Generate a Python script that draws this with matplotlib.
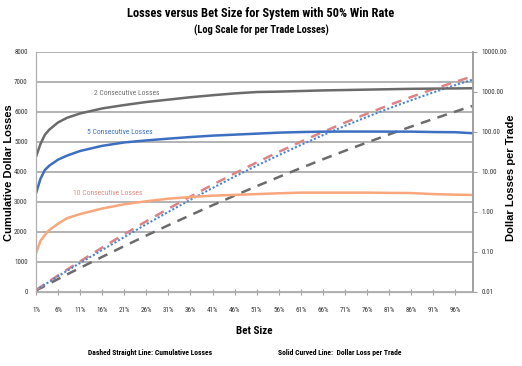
import matplotlib
matplotlib.use('Agg')
import matplotlib.pyplot as plt
from matplotlib import font_manager
from matplotlib.ticker import FixedLocator, FuncFormatter

# pick a narrow font if one is there
installed = {f.name for f in font_manager.fontManager.ttflist}
narrow = 'Liberation Sans'
for name in ['Liberation Sans Narrow', 'DejaVu Sans Condensed', 'Roboto Condensed',
             'Open Sans Condensed', 'Noto Sans Condensed']:
    if name in installed:
        narrow = name
        break
plt.rcParams['font.family'] = [narrow, 'DejaVu Sans']
arial = ['Liberation Sans', 'DejaVu Sans']

# bet size in percent
bet_size = [1, 2, 3, 4, 6, 8, 11, 16, 21, 26, 31, 36, 41, 46, 51, 56, 61, 66, 71, 76, 81, 86, 91, 96, 100]

# cumulative losses (left axis, dashed lines)
cum_red = [57, 155, 252, 349, 542, 732, 1013, 1472, 1917, 2348, 2767, 3172, 3563, 3942, 4307,
           4658, 4997, 5322, 5633, 5932, 6217, 6488, 6747, 6992, 7178]
cum_blue = [50, 150, 240, 330, 515, 695, 960, 1390, 1820, 2250, 2660, 3065, 3455, 3835, 4200,
            4550, 4890, 5215, 5525, 5825, 6110, 6380, 6640, 6885, 7070]
cum_gray = [40, 117, 193, 270, 421, 572, 795, 1161, 1520, 1871, 2215, 2551, 2880, 3201, 3515,
            3821, 4120, 4411, 4695, 4971, 5240, 5501, 5755, 6001, 6193]

# dollar loss per trade (right log axis, solid curves)
loss_2 = [23.7, 49.0, 83.2, 112, 170, 221, 285, 380, 462, 550, 631, 724, 813, 902, 977,
          1000, 1035, 1072, 1096, 1122, 1148, 1175, 1189, 1202, 1216]
loss_5 = [2.88, 6.6, 11.0, 14.1, 20.0, 25.1, 32.9, 44.2, 53.7, 60.3, 66.8, 73.3, 79.4, 84.1, 89.1,
          94.4, 97.7, 100, 100.5, 100.5, 100, 100, 97.7, 96.6, 91.2]
loss_10 = [0.091, 0.186, 0.262, 0.347, 0.501, 0.684, 0.871, 1.20, 1.53, 1.82, 2.11, 2.32, 2.51, 2.63, 2.75,
           2.88, 2.99, 2.99, 2.99, 2.99, 2.95, 2.92, 2.75, 2.66, 2.62]

x_ticks = list(range(1, 100, 5))
x_labels = [f'{t}%' for t in x_ticks]

fig = plt.figure(figsize=(5.22, 3.66), dpi=100)
ax = fig.add_axes([0.069, 0.203, 0.837, 0.656])
ax2 = ax.twinx()

grid_c = '#a6a6a6'
ax.set_ylim(0, 8000)
ax.set_xlim(1, 100)
ax.yaxis.set_major_locator(FixedLocator(range(0, 8001, 1000)))
ax.grid(axis='y', color=grid_c, linewidth=1.2)
ax.set_axisbelow(True)
ax.set_xticks(x_ticks)
ax.set_xticklabels(x_labels)

ax.spines['top'].set_visible(False)
ax2.spines['top'].set_visible(False)
for a in (ax, ax2):
    a.spines['left'].set_color('#b0b0b0')
    a.spines['bottom'].set_color('#b0b0b0')
    a.spines['right'].set_color('#a0a0a0')
    a.spines['right'].set_linewidth(1.2)

ax.tick_params(axis='y', length=0, labelsize=5, pad=6, colors='#333333')
ax.tick_params(axis='x', length=4, direction='inout', color='#a0a0a0', labelsize=5,
               labelcolor='#333333', pad=9)

ax.plot(bet_size, cum_gray, color='#6b6b6b', linewidth=1.8, linestyle=(0, (4, 3)))
ax.plot(bet_size, cum_red, color='#d98585', linewidth=1.8, linestyle=(0, (4, 3)))
ax.plot(bet_size, cum_blue, color='#4a86d0', linewidth=1.5, linestyle=(0, (1, 1)))

ax2.set_yscale('log')
ax2.set_ylim(0.01, 10000)
ax2.yaxis.set_major_locator(FixedLocator([0.01, 0.1, 1, 10, 100, 1000, 10000]))
ax2.yaxis.set_minor_locator(FixedLocator([]))
ax2.yaxis.set_major_formatter(FuncFormatter(lambda v, p: f'{v:.2f}'))
ax2.tick_params(axis='y', length=3, color='#a0a0a0', labelsize=5, labelcolor='#333333', pad=3)

ax2.plot(bet_size, loss_2, color='#6b6b6b', linewidth=1.8)
ax2.plot(bet_size, loss_5, color='#3d6fc0', linewidth=1.8)
ax2.plot(bet_size, loss_10, color='#f8a67c', linewidth=1.8)

ax.text(21.6, 6633, '2 Consecutive Losses', color='#707070', fontsize=5.5, ha='center', va='center')
ax.text(20.0, 5333, '5 Consecutive Losses', color='#3d6fc0', fontsize=5.5, ha='center', va='center')
ax.text(17.2, 3280, '10 Consecutive Losses', color='#e08a80', fontsize=5.5, ha='center', va='center')

fig.text(0.5, 0.962, 'Losses versus Bet Size for System with 50% Win Rate',
         fontsize=9, fontweight='bold', ha='center', va='center')
fig.text(0.5, 0.917, '(Log Scale for per Trade Losses)',
         fontsize=7.5, fontweight='bold', ha='center', va='center')

fig.text(9 / 522, 0.529, 'Cumulative Dollar Losses', rotation=90, fontsize=8,
         fontweight='bold', family=arial, ha='center', va='center')
fig.text(511 / 522, 0.515, 'Dollar Losses per Trade', rotation=90, fontsize=8,
         fontweight='bold', family=arial, ha='center', va='center')
ax.set_xlabel('Bet Size', fontsize=8, fontweight='bold', labelpad=9)

fig.text(0.287, 0.038, 'Dashed Straight Line: Cumulative Losses', fontsize=5.5,
         fontweight='bold', ha='center', va='center')
fig.text(0.651, 0.038, 'Solid Curved Line:  Dollar Loss per Trade', fontsize=5.5,
         fontweight='bold', ha='center', va='center')

fig.savefig('out.png', dpi=100)
